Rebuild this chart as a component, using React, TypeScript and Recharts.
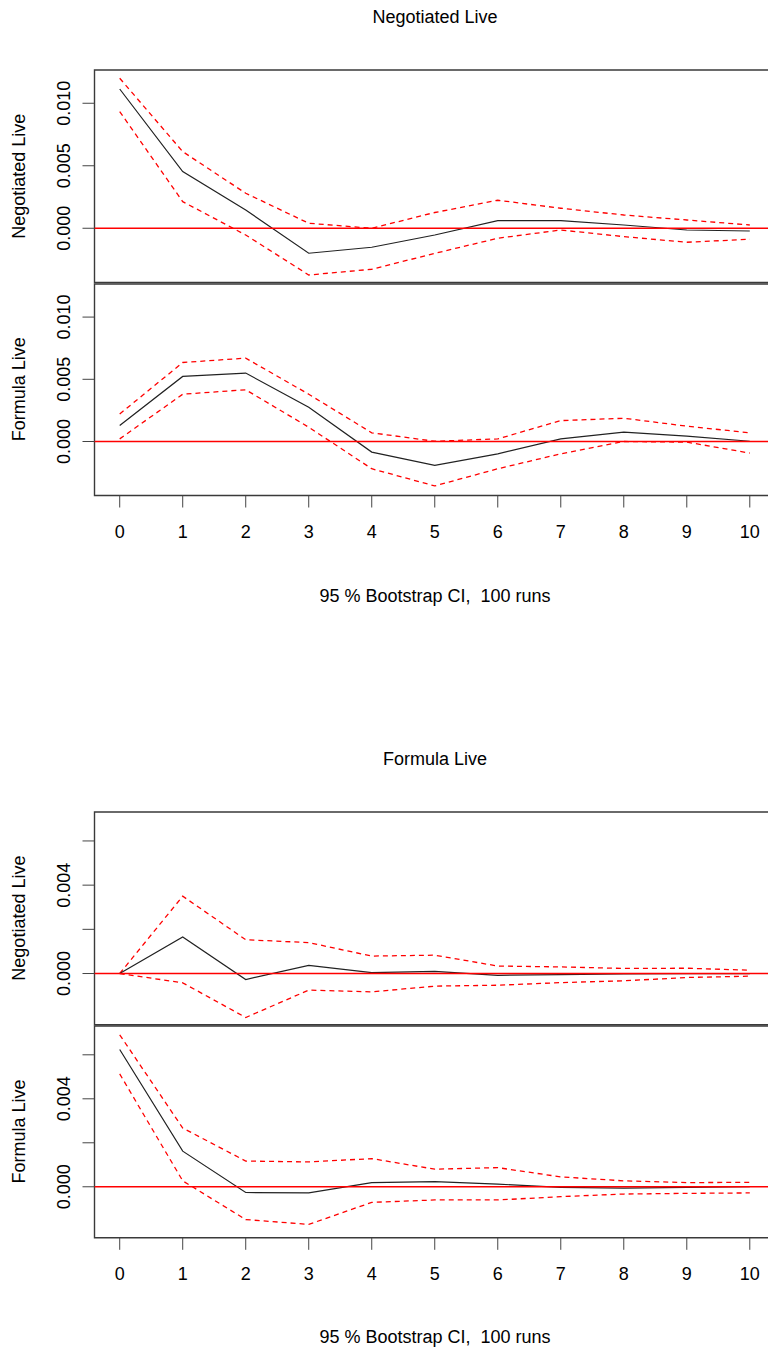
import React from "react";
import { LineChart, Line, XAxis, YAxis, ReferenceLine, ReferenceArea } from "recharts";

const steps = [0, 1, 2, 3, 4, 5, 6, 7, 8, 9, 10];

// impulse: Negotiated Live
const negOnNeg = [0.01114, 0.00453, 0.00146, -0.002, -0.00152, -0.00054, 0.00061, 0.00061, 0.00026, -0.00014, -0.00022];
const negOnNegUpper = [0.012, 0.00613, 0.0028, 0.0004, 0.0, 0.00126, 0.00224, 0.0016, 0.00106, 0.00066, 0.00026];
const negOnNegLower = [0.00933, 0.00213, -0.00054, -0.00374, -0.00328, -0.00201, -0.0008, -0.00014, -0.00067, -0.00112, -0.00088];

const negOnForm = [0.00128, 0.00523, 0.0055, 0.00275, -0.00085, -0.00192, -0.00099, 0.00021, 0.00075, 0.00043, 0.00002];
const negOnFormUpper = [0.00221, 0.00635, 0.0067, 0.0038, 0.0007, 0.00002, 0.00021, 0.00168, 0.00187, 0.00123, 0.0007];
const negOnFormLower = [0.00021, 0.0038, 0.00416, 0.00115, -0.00219, -0.00357, -0.00219, -0.00099, 0, -0.00005, -0.00093];

// impulse: Formula Live
const formOnNeg = [0, 0.00165, -0.00027, 0.00037, 0.00004, 0.0001, -0.00008, -0.00005, -0.00002, 0, 0];
const formOnNegUpper = [0, 0.0035, 0.00153, 0.0014, 0.00079, 0.00083, 0.00034, 0.0003, 0.00023, 0.00024, 0.00015];
const formOnNegLower = [0, -0.00042, -0.00199, -0.00075, -0.00083, -0.00057, -0.00053, -0.00041, -0.00033, -0.00018, -0.00012];

const formOnForm = [0.00624, 0.00162, -0.00026, -0.00028, 0.00019, 0.00023, 0.00012, -0.00003, -0.00006, -0.00003, 0.00001];
const formOnFormUpper = [0.00691, 0.00267, 0.00117, 0.00113, 0.00128, 0.0008, 0.00087, 0.00045, 0.00027, 0.00019, 0.0002];
const formOnFormLower = [0.00513, 0.00027, -0.00149, -0.00171, -0.00071, -0.0006, -0.0006, -0.00045, -0.00033, -0.0003, -0.00028];

const fig1Ticks = [0, 0.005, 0.01];
const fig1Labeled = [0, 0.005, 0.01];
const fig2Ticks = [0, 0.002, 0.004, 0.006];
const fig2Labeled = [0, 0.004];

const fig1Domain: [number, number] = [-0.00434, 0.01266];
const fig2Domain: [number, number] = [-0.00232, 0.00731];
const xDomain: [number, number] = [-0.4, 10.4];

const FONT = "'Liberation Sans', Arial, Helvetica, sans-serif";
const SUBTITLE = "95 % Bootstrap CI,\u00a0\u00a0100 runs";

const rows = (mid: number[], up: number[], lo: number[]) =>
  steps.map((s, i) => ({ step: s, irf: mid[i], upper: up[i], lower: lo[i] }));

function YTick(props: any) {
  const { x, y, payload, labeled } = props;
  const v = payload.value as number;
  if (!labeled.some((l: number) => Math.abs(l - v) < 1e-9)) return null;
  const tx = x - 12.5;
  return (
    <text x={tx} y={y} transform={`rotate(-90, ${tx}, ${y})`} textAnchor="middle" fontSize={18} fontFamily={FONT} fill="#000">
      {v.toFixed(3)}
    </text>
  );
}

function XTick(props: any) {
  const { x, y, payload } = props;
  return (
    <text x={x} y={y + 30} textAnchor="middle" fontSize={18} fontFamily={FONT} fill="#000">
      {payload.value}
    </text>
  );
}

type PanelProps = {
  top: number;
  plotH: number;
  data: ReturnType<typeof rows>;
  domain: [number, number];
  ticks: number[];
  labeled: number[];
  showX: boolean;
};

function Panel({ top, plotH, data, domain, ticks, labeled, showX }: PanelProps) {
  const xH = showX ? 60 : 0;
  const mb = showX ? 0 : 5;
  return (
    <div style={{ position: "absolute", left: 0, top: top - 10 }}>
      <LineChart width={780} height={10 + plotH + xH + mb} data={data} margin={{ top: 10, right: 5, left: 34.5, bottom: mb }}>
        <XAxis
          dataKey="step"
          type="number"
          domain={xDomain}
          allowDataOverflow
          ticks={steps}
          interval={0}
          hide={!showX}
          height={xH}
          axisLine={false}
          tickSize={12}
          tickMargin={0}
          tickLine={{ stroke: "#444", strokeWidth: 1 }}
          tick={<XTick />}
        />
        <YAxis
          type="number"
          domain={domain}
          allowDataOverflow
          ticks={ticks}
          interval={0}
          width={60}
          axisLine={false}
          tickSize={12}
          tickMargin={0}
          tickLine={{ stroke: "#444", strokeWidth: 1 }}
          tick={<YTick labeled={labeled} />}
        />
        <Line type="linear" dataKey="upper" stroke="#ff0000" strokeWidth={1.3} strokeDasharray="5 4" dot={false} isAnimationActive={false} />
        <Line type="linear" dataKey="lower" stroke="#ff0000" strokeWidth={1.3} strokeDasharray="5 4" dot={false} isAnimationActive={false} />
        <Line type="linear" dataKey="irf" stroke="#222" strokeWidth={1.2} dot={false} isAnimationActive={false} />
        <ReferenceLine y={0} stroke="#ff0000" strokeWidth={1.6} ifOverflow="visible" />
        <ReferenceArea x1={xDomain[0]} x2={xDomain[1]} y1={domain[0]} y2={domain[1]} fill="none" fillOpacity={0} stroke="#3a3a3a" strokeWidth={1.4} />
      </LineChart>
    </div>
  );
}

const panels = [
  { top: 70, plotH: 212.5, data: rows(negOnNeg, negOnNegUpper, negOnNegLower), domain: fig1Domain, ticks: fig1Ticks, labeled: fig1Labeled, showX: false, ylabel: "Negotiated Live" },
  { top: 283.5, plotH: 211.5, data: rows(negOnForm, negOnFormUpper, negOnFormLower), domain: fig1Domain, ticks: fig1Ticks, labeled: fig1Labeled, showX: true, ylabel: "Formula Live" },
  { top: 811.7, plotH: 212.8, data: rows(formOnNeg, formOnNegUpper, formOnNegLower), domain: fig2Domain, ticks: fig2Ticks, labeled: fig2Labeled, showX: false, ylabel: "Negotiated Live" },
  { top: 1025.5, plotH: 211.8, data: rows(formOnForm, formOnFormUpper, formOnFormLower), domain: fig2Domain, ticks: fig2Ticks, labeled: fig2Labeled, showX: true, ylabel: "Formula Live" },
];

export default function App() {
  return (
    <div style={{ position: "absolute", left: 0, top: 0, width: 768, height: 1350, overflow: "hidden", background: "#fff", fontFamily: FONT }}>
      {panels.map((p, i) => (
        <Panel key={i} top={p.top} plotH={p.plotH} data={p.data} domain={p.domain} ticks={p.ticks} labeled={p.labeled} showX={p.showX} />
      ))}
      <svg width={768} height={1350} style={{ position: "absolute", left: 0, top: 0, pointerEvents: "none" }}>
        <g fontFamily={FONT} fontSize={18} fill="#000">
          <text x={435} y={23} textAnchor="middle">Negotiated Live</text>
          <text x={435} y={602} textAnchor="middle">{SUBTITLE}</text>
          <text x={435} y={765} textAnchor="middle">Formula Live</text>
          <text x={435} y={1343} textAnchor="middle">{SUBTITLE}</text>
          {panels.map((p, i) => {
            const cy = p.top + p.plotH / 2;
            return (
              <text key={i} x={25} y={cy} textAnchor="middle" transform={`rotate(-90, 25, ${cy})`}>
                {p.ylabel}
              </text>
            );
          })}
        </g>
      </svg>
    </div>
  );
}
